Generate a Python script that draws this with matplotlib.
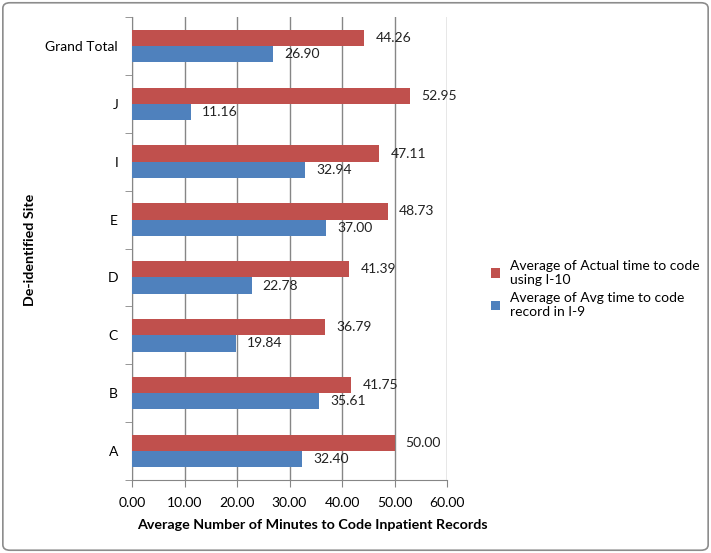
import matplotlib
matplotlib.use("Agg")
import matplotlib.pyplot as plt
import numpy as np
from matplotlib.patches import FancyBboxPatch

sites = ["A", "B", "C", "D", "E", "I", "J", "Grand Total"]
i10_actual = [50.00, 41.75, 36.79, 41.39, 48.73, 47.11, 52.95, 44.26]
i9_avg = [32.40, 35.61, 19.84, 22.78, 37.00, 32.94, 11.16, 26.90]
xticks = [0, 10, 20, 30, 40, 50, 60]

red = "#C0504D"
blue = "#4F81BD"
plt.rcParams['font.family'] = ['Lato', 'DejaVu Sans']

fig = plt.figure(figsize=(7.11, 5.53), dpi=100)
ax = fig.add_axes([132/711, 1-480/553, (447-132)/711, (480-17)/553])

y = np.arange(len(sites))
h = 0.28
b1 = ax.barh(y + h/2, i10_actual, height=h, color=red, label="Average of Actual time to code\nusing I-10", zorder=3)
b2 = ax.barh(y - h/2, i9_avg, height=h, color=blue, label="Average of Avg time to code\nrecord in I-9", zorder=3)

for bars, vals in ((b1, i10_actual), (b2, i9_avg)):
    for bar, v in zip(bars, vals):
        ax.annotate(f"{v:.2f}", (bar.get_width(), bar.get_y() + bar.get_height()/2),
                    xytext=(8, 0), textcoords="offset points", va="center", ha="left",
                    fontsize=10, color="#222222")

ax.set_xlim(0, 60)
ax.set_ylim(-0.5, len(sites) - 0.5)
ax.set_xticks(xticks)
ax.set_xticklabels([f"{v:.2f}" for v in xticks], fontsize=10)
ax.set_yticks(y)
ax.set_yticklabels(sites, fontsize=10)
ax.set_yticks(np.arange(-0.5, len(sites), 1), minor=True)
ax.tick_params(axis='y', which='major', length=0, pad=10)
ax.tick_params(axis='y', which='minor', length=5, direction='out', color='#868686')
ax.tick_params(axis='x', which='major', length=5, direction='out', color='#868686', pad=7)
ax.grid(axis='x', color='#868686', linewidth=1, zorder=0)
for s in ('top', 'right'):
    ax.spines[s].set_visible(False)
for s in ('left', 'bottom'):
    ax.spines[s].set_color('#868686')

ax.set_xlabel("Average Number of Minutes to Code Inpatient Records", fontsize=10.3, fontweight='bold')
ax.xaxis.set_label_coords(312/711, 1-525/553, transform=fig.transFigure)
ax.xaxis.label.set_va('center')
ax.set_ylabel("De-identified Site", fontsize=10.3, fontweight='bold')
ax.yaxis.set_label_coords(30/711, 1-250/553, transform=fig.transFigure)
ax.yaxis.label.set_va('center')

h_, l_ = ax.get_legend_handles_labels()
fig.legend(h_, l_, loc='center left', bbox_to_anchor=(478/711, 1-289/553), frameon=False,
           fontsize=10, handlelength=0.7, handleheight=0.7, handletextpad=0.7, labelspacing=0.5)

border = FancyBboxPatch((0.004, 0.005), 0.992, 0.99, boxstyle="round,pad=0,rounding_size=0.01",
                        transform=fig.transFigure, facecolor='none', edgecolor='#8c8c8c', linewidth=1.2)
fig.patches.append(border)

fig.savefig("out.png", dpi=100)
